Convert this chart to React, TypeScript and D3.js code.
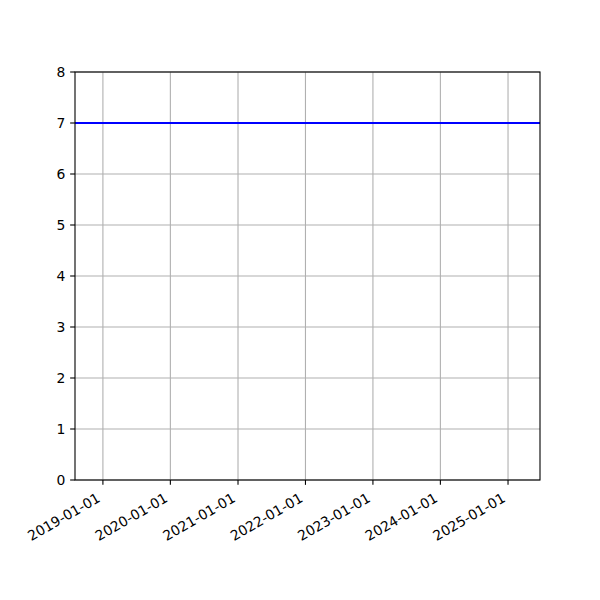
import React from "react";
import { scaleLinear, scaleTime, line, timeFormat } from "d3";

// the series: one flat line at 7 across the whole date range
const seriesDates = ["2018-08-03", "2025-06-23"];
const seriesValues = [7, 7];

const xTickDates = ["2019-01-01", "2020-01-01", "2021-01-01", "2022-01-01", "2023-01-01", "2024-01-01", "2025-01-01"];
const yTicks = [0, 1, 2, 3, 4, 5, 6, 7, 8];

const W = 600;
const H = 600;
const LEFT = 75;
const RIGHT = 540;
const TOP = 72;
const BOTTOM = 480;

const FONT = "DejaVu Sans, sans-serif";
const FS = 13.9;

export default function App() {
  const parse = (s: string) => new Date(s + "T00:00:00Z");
  const dates = seriesDates.map(parse);

  const xScale = scaleTime().domain([dates[0], dates[dates.length - 1]]).range([LEFT, RIGHT]);
  const yScale = scaleLinear().domain([0, 8]).range([BOTTOM, TOP]);

  const fmt = timeFormat("%Y-%m-%d");

  const points: [Date, number][] = dates.map((d, i) => [d, seriesValues[i]]);
  const lineFn = line<[Date, number]>()
    .x(d => xScale(d[0]))
    .y(d => yScale(d[1]));

  const tickLen = 4.86;
  const pad = 4.86;
  const labelH = FS * 1.164;

  return (
    <svg
      width={W}
      height={H}
      style={{ position: "absolute", left: 0, top: 0, background: "#fff" }}
    >
      <rect x={0} y={0} width={W} height={H} fill="#fff" />

      {/* grid */}
      <g stroke="#b0b0b0" strokeWidth={1.1}>
        {xTickDates.map(s => (
          <line key={s} x1={xScale(parse(s))} x2={xScale(parse(s))} y1={TOP} y2={BOTTOM} />
        ))}
        {yTicks.map(v => (
          <line key={v} x1={LEFT} x2={RIGHT} y1={yScale(v)} y2={yScale(v)} />
        ))}
      </g>

      {/* data line */}
      <clipPath id="plot">
        <rect x={LEFT} y={TOP} width={RIGHT - LEFT} height={BOTTOM - TOP} />
      </clipPath>
      <path d={lineFn(points)!} fill="none" stroke="blue" strokeWidth={2.08} clipPath="url(#plot)" />

      {/* spines */}
      <rect x={LEFT} y={TOP} width={RIGHT - LEFT} height={BOTTOM - TOP} fill="none" stroke="black" strokeWidth={1.1} />

      {/* x axis */}
      {xTickDates.map(s => {
        const x = xScale(parse(s));
        const ay = BOTTOM + tickLen + pad + labelH * Math.cos(Math.PI / 6);
        return (
          <g key={s}>
            <line x1={x} x2={x} y1={BOTTOM} y2={BOTTOM + tickLen} stroke="black" strokeWidth={1.1} />
            <text
              transform={`translate(${x}, ${ay}) rotate(-30)`}
              y={-FS * 0.236}
              textAnchor="end"
              fontFamily={FONT}
              fontSize={FS}
              fill="black"
            >
              {fmt(parse(s))}
            </text>
          </g>
        );
      })}

      {/* y axis */}
      {yTicks.map(v => (
        <g key={v} transform={`translate(0, ${yScale(v)})`}>
          <line x1={LEFT - tickLen} x2={LEFT} stroke="black" strokeWidth={1.1} />
          <text
            x={LEFT - tickLen - pad}
            dy="0.35em"
            textAnchor="end"
            fontFamily={FONT}
            fontSize={FS}
            fill="black"
          >
            {v}
          </text>
        </g>
      ))}
    </svg>
  );
}
